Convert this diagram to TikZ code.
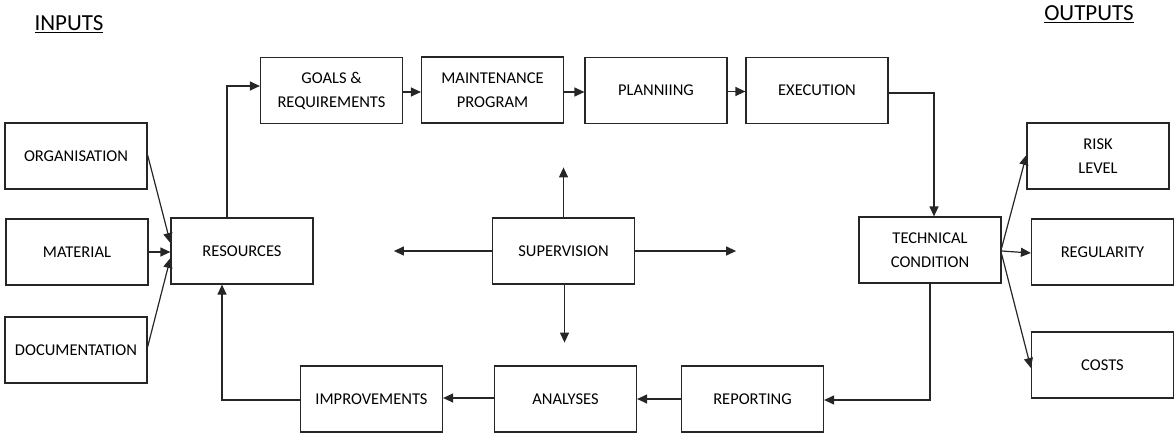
\documentclass[tikz,border=0pt]{standalone}
\usepackage{fontspec}
\setmainfont{Carlito}
\usetikzlibrary{arrows.meta,calc}
\begin{document}
\begin{tikzpicture}[x=1pt,y=-1pt,
  box/.style={draw=black!85, line width=1.2pt, minimum width=142pt, minimum height=66pt,
    inner sep=0pt, align=center, font=\fontsize{16.5}{24}\selectfont},
  arr/.style={draw=black!85, line width=1.2pt, -{Triangle[length=10pt,width=9pt]}},
  title/.style={inner sep=0pt, font=\fontsize{23}{26}\selectfont}]
\useasboundingbox (0,0) rectangle (1174,433);

% headings
\node[title] (inputs) at (69,24) {\underline{INPUTS}};
\node[title] (outputs) at (1089,14) {\underline{OUTPUTS}};

% input boxes
\node[box] (org) at (76,156) {ORGANISATION};
\node[box] (mat) at (77,252) {MATERIAL};
\node[box] (doc) at (76,350) {DOCUMENTATION};
\node[box] (res) at (242,251) {RESOURCES};

% upper process row
\node[box] (goals) at (331.5,90.5) {GOALS \&\\REQUIREMENTS};
\node[box] (maint) at (492.5,90) {MAINTENANCE\\PROGRAM};
\node[box] (plan) at (656,90.5) {PLANNIING};
\node[box] (exec) at (817,90.5) {EXECUTION};

% centre and right
\node[box] (sup) at (563.5,251) {SUPERVISION};
\node[box] (tech) at (930,250) {TECHNICAL\\CONDITION};

% outputs
\node[box] (risk) at (1098,156) {RISK\\LEVEL};
\node[box] (reg) at (1102.5,252) {REGULARITY};
\node[box] (costs) at (1102.5,365) {COSTS};

% lower process row
\node[box] (rep) at (752.5,399) {REPORTING};
\node[box] (anal) at (565.5,399) {ANALYSES};
\node[box] (impr) at (371.5,399) {IMPROVEMENTS};

% inputs into resources
\draw[arr] ([yshift=1pt]org.east) -- ([yshift=8pt]res.west);
\draw[arr] (mat.east) -- (mat.east -| res.west);
\draw[arr] ([yshift=3pt]doc.east) -- ([yshift=-7pt]res.west);

% main loop
\draw[arr] ([xshift=-15pt]res.north) |- ([yshift=4.5pt]goals.west);
\draw[arr] ([yshift=-1.5pt]goals.east) -- ([yshift=-1.5pt]goals.east -| maint.west);
\draw[arr] ([yshift=-2pt]maint.east) -- ([yshift=-2pt]maint.east -| plan.west);
\draw[arr] ([yshift=-1pt]plan.east) -- ([yshift=-1pt]plan.east -| exec.west);
\draw[arr] ([yshift=-2.5pt]exec.east) -| ([xshift=4pt]tech.north);
\draw[arr] (tech.south) |- ([yshift=-1pt]rep.east);
\draw[arr] (rep.west) -- (rep.west -| anal.east);
\draw[arr] ([yshift=1pt]anal.west) -- ([yshift=1pt]anal.west -| impr.east);
\draw[arr] ([yshift=-1pt]impr.west) -| ([xshift=-20pt]res.south);

% outputs from technical condition
\draw[arr] ([yshift=2pt]tech.east) -- ([yshift=1pt]risk.west);
\draw[arr] ([yshift=-1pt]tech.east) -- ([yshift=-1pt]reg.west);
\draw[arr] ([yshift=-4pt]tech.east) -- ([yshift=-3pt]costs.west);

% supervision reaches in all four directions
\draw[arr] (sup.north) -- ++(0,-50);
\draw[arr] (sup.west) -- ++(-98,0);
\draw[arr] (sup.east) -- ++(101,0);
\draw[arr] ([xshift=1pt]sup.south) -- ++(0,58);
\end{tikzpicture}
\end{document}
